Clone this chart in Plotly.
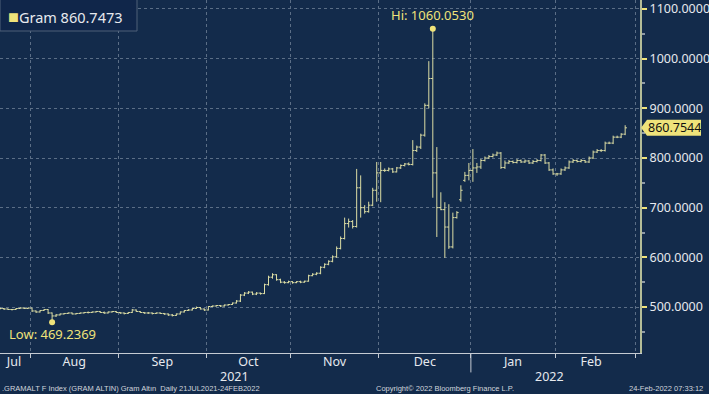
import plotly.graph_objects as go
import pandas as pd

# ---------------- data ----------------
dates = pd.bdate_range("2021-07-21", "2022-02-24")

open_ = [
    498, 497, 496, 495, 495, 497, 498, 497,
    498, 492, 490, 493, 495, 488, 482, 484, 486, 487, 488, 486, 487, 488, 489, 489, 490, 491, 489, 488, 490, 491,
    489, 488, 487, 489, 494, 491, 489, 488, 488, 487, 488, 487, 486, 484, 483, 486, 490, 493, 494, 497, 499, 496,
    494, 501, 502, 503, 502, 504, 505, 508, 512, 524, 528, 530, 526, 528, 527, 545, 560, 565, 555, 550, 549,
    551, 549, 551, 550, 552, 563, 566, 568, 580, 586, 592, 601, 618, 638, 668, 672, 662, 740, 700, 692, 705, 735,
    770, 775, 775, 778, 772, 780, 785, 788, 787, 815, 822, 846, 906, 960, 770, 700, 696, 661, 621, 680, 716, 755, 765,
    775, 780, 782, 795, 800, 803, 806, 810, 781, 790, 793, 791, 795, 792, 794, 790, 793, 795, 806, 790, 776,
    768, 768, 776, 780, 792, 795, 793, 795, 792, 800, 812, 815, 815, 830, 830, 842, 842, 848,
]
high = [
    499, 498, 497, 496, 498, 499, 499, 499,
    498, 493, 494, 496, 496, 489, 486, 487, 488, 489, 489, 488, 489, 490, 491, 491, 492, 492, 491, 491, 492, 492,
    490, 489, 490, 496, 495, 492, 490, 490, 489, 489, 489, 488, 487, 486, 487, 491, 494, 496, 498, 501, 500, 497,
    502, 503, 504, 504, 505, 506, 509, 514, 526, 530, 532, 531, 530, 529, 547, 563, 568, 566, 557, 552, 553,
    552, 552, 553, 553, 565, 568, 570, 582, 588, 594, 604, 622, 642, 680, 678, 675, 778, 765, 705, 712, 740, 792,
    792, 779, 781, 780, 782, 787, 790, 791, 836, 825, 849, 910, 995, 1060.0530, 822, 731, 711, 707, 690, 693, 745, 772, 790,
    818, 790, 798, 803, 806, 809, 813, 812, 795, 796, 795, 798, 797, 797, 796, 796, 798, 808, 808, 792, 779,
    770, 779, 783, 795, 798, 797, 798, 796, 803, 815, 818, 818, 833, 833, 845, 845, 850, 866,
]
low = [
    495, 494, 494, 493, 494, 496, 496, 496,
    490, 488, 489, 492, 486, 469.2369, 480, 483, 485, 486, 485, 485, 486, 487, 487, 488, 489, 488, 486, 487, 489, 488,
    486, 485, 486, 488, 490, 488, 486, 486, 485, 486, 486, 484, 482, 481, 482, 485, 489, 492, 493, 496, 495, 492,
    493, 500, 501, 500, 501, 503, 504, 507, 510, 522, 526, 524, 524, 525, 526, 543, 557, 553, 548, 547, 548,
    547, 548, 548, 549, 551, 562, 564, 566, 578, 584, 590, 599, 616, 636, 660, 658, 660, 680, 688, 690, 703, 712,
    711, 772, 773, 770, 771, 778, 783, 785, 785, 812, 818, 843, 900, 720, 641, 695, 599, 617, 618, 678, 712, 752, 755,
    752, 770, 778, 793, 798, 801, 804, 778, 778, 788, 789, 789, 790, 790, 788, 788, 791, 793, 788, 774, 766,
    764, 766, 774, 778, 790, 791, 791, 790, 790, 798, 810, 812, 813, 828, 828, 840, 840, 846,
]
close = [
    497, 496, 495, 495, 497, 498, 497, 498,
    492, 490, 493, 495, 488, 482, 484, 486, 487, 488, 486, 487, 488, 489, 489, 490, 491, 489, 488, 490, 491, 489,
    488, 487, 489, 494, 491, 489, 488, 488, 487, 488, 487, 486, 484, 483, 486, 490, 493, 494, 497, 499, 496, 494,
    501, 502, 503, 502, 504, 505, 508, 512, 524, 528, 530, 526, 528, 527, 545, 560, 565, 555, 550, 549, 551,
    549, 551, 550, 552, 563, 566, 568, 580, 586, 592, 601, 618, 638, 668, 672, 662, 740, 700, 692, 705, 735, 770,
    775, 775, 778, 772, 780, 785, 788, 787, 815, 822, 846, 906, 960, 770, 700, 696, 661, 621, 680, 690, 735, 765, 775,
    780, 782, 795, 800, 803, 806, 810, 781, 790, 793, 791, 795, 792, 794, 790, 793, 795, 806, 790, 776, 768,
    768, 776, 780, 792, 795, 793, 795, 792, 800, 812, 815, 815, 830, 830, 842, 842, 848, 860.7544,
]

month_labels = ["Jul", "Aug", "Sep", "Oct", "Nov", "Dec", "Jan", "Feb"]
year_labels = ["2021", "2022"]
y_tick_values = [500, 600, 700, 800, 900, 1000, 1100]
hi_value = 1060.0530
low_value = 469.2369
last_price = 860.7544
legend_text = "Gram 860.7473"
footer_left = ".GRAMALT F Index (GRAM ALTIN) Gram Altın  Daily 21JUL2021-24FEB2022"
footer_mid = "Copyright© 2022 Bloomberg Finance L.P."
footer_right = "24-Feb-2022 07:33:12"

# ---------------- derived positions ----------------
x = list(range(len(dates)))
periods = dates.to_period("M")
uniq = list(dict.fromkeys(periods))
bounds, centers = [], []
for p in uniq:
    ids = [i for i, q in enumerate(periods) if q == p]
    if ids[0] > 0:
        bounds.append(ids[0] - 0.5)
    centers.append((ids[0] + ids[-1]) / 2)
last_p = uniq[-1]
n_last = len(pd.bdate_range(last_p.start_time, last_p.end_time))
bounds.append([i for i, q in enumerate(periods) if q == last_p][0] + n_last - 0.5)

years = dates.year
year_centers = []
for yv in sorted(set(years)):
    ids = [i for i, v in enumerate(years) if v == yv]
    year_centers.append((ids[0] + ids[-1]) / 2)
year_break = [i for i, v in enumerate(years) if v == 2022][0] - 0.5

hi_idx = high.index(hi_value)
low_idx = low.index(low_value)

BG = "#132b4b"
BAR = "#dcdda4"
YEL = "#efe37a"
GRID = "#5b6e86"
TXT = "#e6e9ee"
FONT = "Noto Sans"

XR = [0, 159.7]
YR = [407.4, 1118.1]

fig = go.Figure()
fig.add_trace(go.Ohlc(
    x=x, open=open_, high=high, low=low, close=close,
    increasing=dict(line=dict(color=BAR, width=1)),
    decreasing=dict(line=dict(color=BAR, width=1)),
    tickwidth=0.45, hoverinfo="skip", showlegend=False,
))
fig.add_trace(go.Scatter(
    x=[hi_idx, low_idx], y=[hi_value, low_value], mode="markers",
    marker=dict(color=YEL, size=6), hoverinfo="skip", showlegend=False,
))

fig.update_layout(
    width=709, height=394,
    margin=dict(l=0, r=69, t=0, b=41, autoexpand=False),
    paper_bgcolor=BG, plot_bgcolor=BG,
    font=dict(family=FONT, color=TXT),
    showlegend=False,
    xaxis=dict(
        range=XR, rangeslider=dict(visible=False),
        tickmode="array", tickvals=centers, ticktext=month_labels,
        ticks="", showgrid=False, zeroline=False,
        tickfont=dict(size=12.5, color=TXT, family=FONT),
        ticklabelstandoff=-3,
        showline=True, linecolor="#c5cbd3", linewidth=1,
        minor=dict(tickmode="array", tickvals=bounds, ticks="outside", ticklen=4,
                   tickcolor="#c5cbd3", showgrid=True, gridcolor=GRID,
                   griddash="dot", gridwidth=1),
    ),
    yaxis=dict(
        range=YR, side="right",
        tickmode="array", tickvals=y_tick_values, tickformat=".4f",
        ticks="outside", ticklen=5, tickwidth=2, tickcolor=YEL,
        tickfont=dict(size=12.5, color=TXT, family=FONT),
        ticklabeloverflow="allow",
        showgrid=True, gridcolor=GRID, griddash="dot", gridwidth=1,
        zeroline=False,
        showline=True, linecolor="#b4bd98", linewidth=2,
        minor=dict(dtick=50, tick0=0, ticks="outside", ticklen=3,
                   tickcolor="#8d98a6", showgrid=False),
    ),
)

shapes = []
shapes.append(dict(type="line", xref="x", yref="paper", x0=year_break, x1=year_break,
                   y0=0, y1=-0.055, line=dict(color="#c5cbd3", width=1)))
shapes.append(dict(type="rect", xref="paper", yref="paper", x0=0, x1=137 / 640,
                   y0=1 - 31 / 353, y1=1.01, fillcolor="#10264a",
                   line=dict(color="#4e6079", width=1), layer="above"))
px_per_unit = 353 / (YR[1] - YR[0])
hh = 8 / px_per_unit
shapes.append(dict(type="path", xref="paper", yref="y",
                   path=(f"M {641/640} {last_price} L {647/640} {last_price+hh} "
                         f"L {701/640} {last_price+hh} L {701/640} {last_price-hh} "
                         f"L {647/640} {last_price-hh} Z"),
                   fillcolor=YEL, line=dict(color=YEL, width=0), layer="above"))
fig.update_layout(shapes=shapes)

ann = []
ann.append(dict(xref="paper", yref="paper", x=6 / 640, y=1 - 16 / 353, xanchor="left",
                yanchor="middle", showarrow=False,
                text=f'<span style="color:{YEL};font-size:18px">■</span>{legend_text}',
                font=dict(size=14.5, color=TXT, family=FONT)))
ann.append(dict(xref="paper", yref="y", x=674 / 640, y=last_price, xanchor="center",
                yanchor="middle", showarrow=False, text=f"{last_price:.4f}",
                font=dict(size=12.5, color="#111111", family=FONT)))
ann.append(dict(xref="x", yref="y", x=hi_idx, y=hi_value, xanchor="center", yanchor="bottom",
                yshift=3, showarrow=False, text=f"Hi: {hi_value:.4f}",
                font=dict(size=13, color=YEL, family=FONT)))
ann.append(dict(xref="x", yref="y", x=low_idx, y=low_value, xanchor="center", yanchor="top",
                yshift=-1, showarrow=False, text=f"Low: {low_value:.4f}",
                font=dict(size=13, color=YEL, family=FONT)))
for yc, yl in zip(year_centers, year_labels):
    ann.append(dict(xref="x", yref="paper", x=yc, y=-23 / 353, xanchor="center",
                    yanchor="middle", showarrow=False, text=yl,
                    font=dict(size=12.5, color=TXT, family=FONT)))
ann.append(dict(xref="paper", yref="paper", x=0, y=-35.5 / 353, xanchor="left", yanchor="middle",
                showarrow=False, text=footer_left,
                font=dict(size=7.5, color="#d0d5dc", family="Liberation Sans")))
ann.append(dict(xref="paper", yref="paper", x=445 / 640, y=-35.5 / 353, xanchor="center",
                yanchor="middle", showarrow=False, text=footer_mid,
                font=dict(size=7.5, color="#d0d5dc", family="Liberation Sans")))
ann.append(dict(xref="paper", yref="paper", x=705 / 640, y=-35.5 / 353, xanchor="right",
                yanchor="middle", showarrow=False, text=footer_right,
                font=dict(size=7.5, color="#d0d5dc", family="Liberation Sans")))
fig.update_layout(annotations=ann)

fig.write_html("out.html", config={"displayModeBar": False},
               post_script="document.body.style.margin='0';document.body.style.overflow='hidden';")
